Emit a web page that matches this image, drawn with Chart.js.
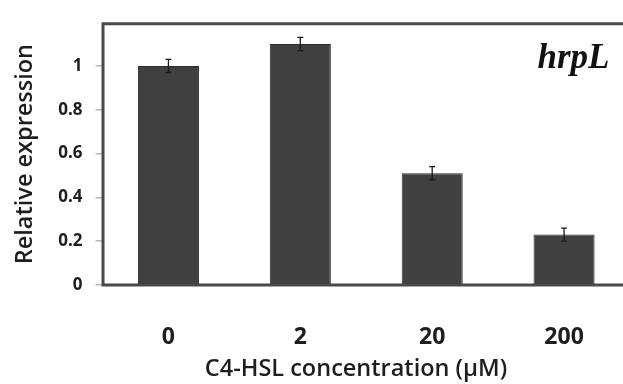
<!DOCTYPE html>
<html>
<head>
<meta charset="utf-8">
<script src="https://cdn.jsdelivr.net/npm/chart.js@4"></script>
<style>
  html, body { margin: 0; padding: 0; background: #ffffff; overflow: hidden; width: 623px; height: 384px; }
  canvas { display: block; }
</style>
</head>
<body>
<canvas id="c" width="630" height="384"></canvas>
<script>
const categories = ["0", "2", "20", "200"];
const expression = [1.00, 1.10, 0.51, 0.23];
const errors = [0.03, 0.03, 0.03, 0.03];
const yTicks = [0, 0.2, 0.4, 0.6, 0.8, 1.0];
const yMax = 1.195;
const geneLabel = "hrpL";
const xTitle = "C4-HSL concentration (\u00b5M)";
const yTitle = "Relative expression";

const frameAndText = {
  id: 'frameAndText',
  beforeDatasetsDraw(chart) {
    const {ctx, chartArea: a} = chart;
    ctx.save();
    ctx.strokeStyle = '#4a4a4a';
    ctx.lineWidth = 3;
    ctx.beginPath();
    ctx.moveTo(a.right + 2, a.top + 0.5);
    ctx.lineTo(a.left + 0.5, a.top + 0.5);
    ctx.lineTo(a.left + 0.5, a.bottom);
    ctx.lineTo(a.right + 2, a.bottom);
    ctx.stroke();
    ctx.restore();
  },
  afterDatasetsDraw(chart) {
    const {ctx, chartArea: a} = chart;
    const y = chart.scales.y;
    const meta = chart.getDatasetMeta(0);
    ctx.save();
    ctx.strokeStyle = '#1a1a1a';
    ctx.lineWidth = 1.3;
    meta.data.forEach((bar, i) => {
      const top = y.getPixelForValue(expression[i] + errors[i]);
      const bot = y.getPixelForValue(expression[i] - errors[i]);
      ctx.beginPath();
      ctx.moveTo(bar.x, top); ctx.lineTo(bar.x, bot);
      ctx.moveTo(bar.x - 3, top); ctx.lineTo(bar.x + 3, top);
      ctx.moveTo(bar.x - 3, bot); ctx.lineTo(bar.x + 3, bot);
      ctx.stroke();
    });
    ctx.fillStyle = '#111';
    ctx.font = 'italic bold 35px "Liberation Serif"';
    ctx.textAlign = 'right';
    ctx.textBaseline = 'alphabetic';
    ctx.fillText(geneLabel, a.left + 507, a.top + 45);
    ctx.fillStyle = '#1e1e1e';
    ctx.font = '600 23.5px "Open Sans"';
    ctx.textAlign = 'center';
    ctx.textBaseline = 'middle';
    ctx.fillText(xTitle, a.left + 253.5, 369);
    ctx.restore();
  }
};

new Chart(document.getElementById('c'), {
  type: 'bar',
  data: {
    labels: categories,
    datasets: [{
      data: expression,
      backgroundColor: '#404040',
      borderColor: '#2c2c2c',
      borderWidth: 1,
      categoryPercentage: 1.0,
      barPercentage: 0.463
    }]
  },
  options: {
    responsive: false,
    animation: false,
    layout: { padding: { top: 13, left: 0, right: 0, bottom: 0 } },
    plugins: { legend: { display: false }, tooltip: { enabled: false } },
    scales: {
      x: {
        grid: { display: false },
        border: { display: false },
        ticks: { color: '#1e1e1e', font: { family: 'Open Sans', size: 23, weight: 'bold' }, padding: 31 },
        afterFit(s) { s.height = 99; }
      },
      y: {
        min: 0,
        max: yMax,
        border: { display: false },
        grid: { drawOnChartArea: false, drawTicks: true, tickLength: 7, color: '#b8b8b8', lineWidth: 1.5 },
        ticks: {
          includeBounds: false,
          color: '#1e1e1e',
          padding: 13,
          font: { family: 'Open Sans', size: 17, weight: 'bold' },
          callback: v => String(Math.round(v * 10) / 10)
        },
        afterBuildTicks(s) { s.ticks = yTicks.map(v => ({ value: v })); },
        title: {
          display: true,
          text: yTitle,
          color: '#1e1e1e',
          font: { family: 'Open Sans', size: 23.5, weight: '600' },
          padding: { top: 11, bottom: 0 }
        },
        afterFit(s) { s.width = 102.5; }
      }
    }
  },
  plugins: [frameAndText]
});
</script>
</body>
</html>
